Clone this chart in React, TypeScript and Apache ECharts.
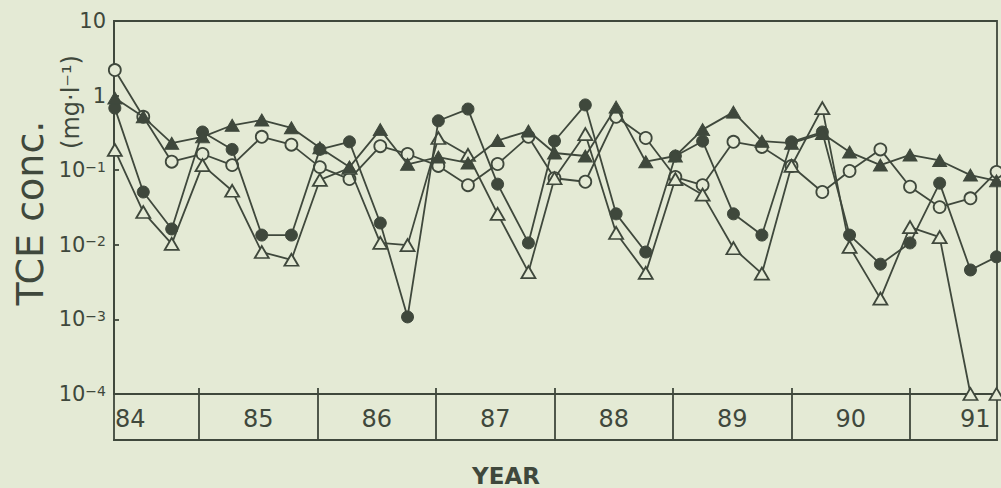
import React, { useEffect, useRef } from "react";
import * as echarts from "echarts";

// Sampling dates (year, two-digit) — roughly quarterly
const TIMES = [
  84.29, 84.53, 84.77, 85.03, 85.28, 85.53, 85.78, 86.02, 86.27, 86.53, 86.76,
  87.02, 87.27, 87.52, 87.78, 88.0, 88.26, 88.52, 88.77, 89.02, 89.25, 89.51,
  89.75, 90.0, 90.26, 90.49, 90.75, 91.0, 91.25, 91.51, 91.73,
];

// TCE concentrations (mg/l)
const FILLED_TRIANGLE = [
  0.93, 0.52, 0.23, 0.28, 0.4, 0.47, 0.37, 0.2, 0.11, 0.35, 0.12, 0.15, 0.125,
  0.25, 0.335, 0.17, 0.155, 0.7, 0.13, 0.155, 0.35, 0.6, 0.245, 0.23, 0.31,
  0.175, 0.117, 0.16, 0.135, 0.086, 0.072,
];
const FILLED_CIRCLE = [
  0.68, 0.051, 0.0163, 0.325, 0.19, 0.0135, 0.0135, 0.19, 0.24, 0.0196, 0.00108,
  0.46, 0.66, 0.065, 0.0106, 0.246, 0.75, 0.026, 0.008, 0.155, 0.245, 0.026,
  0.0135, 0.24, 0.325, 0.0135, 0.0055, 0.0106, 0.067, 0.0046, 0.0069,
];
const OPEN_CIRCLE = [
  2.2, 0.52, 0.13, 0.165, 0.117, 0.28, 0.22, 0.11, 0.076, 0.21, 0.165, 0.114,
  0.063, 0.121, 0.28, 0.078, 0.07, 0.52, 0.27, 0.081, 0.063, 0.24, 0.205, 0.114,
  0.051, 0.0975, 0.19, 0.06, 0.032, 0.042, 0.095,
];
const OPEN_TRIANGLE = [
  0.187, 0.0275, 0.0103, 0.117, 0.053, 0.008, 0.0063, 0.074, 0.107, 0.0106,
  0.0099, 0.27, 0.16, 0.026, 0.0043, 0.078, 0.305, 0.0144, 0.0042, 0.076, 0.047,
  0.009, 0.0041, 0.114, 0.68, 0.0094, 0.0019, 0.0173, 0.0127, 0.0001, 0.0001,
];

const YEAR_BOUNDS = [85, 86, 87, 88, 89, 90, 91];
const YEAR_LABELS = ["84", "85", "86", "87", "88", "89", "90", "91"];
const YEAR_LABEL_POS = [84.42, 85.5, 86.5, 87.5, 88.5, 89.5, 90.5, 91.55];
const Y_EXPONENTS = [-4, -3, -2, -1, 0, 1];

const X_MIN = 84.283;
const X_MAX = 91.734;

const BG = "#e4ead5";
const INK = "#3f483c";
const FONT = "DejaVu Sans";

export default function App() {
  const ref = useRef<HTMLDivElement>(null);

  useEffect(() => {
    if (!ref.current) return;
    const chart = echarts.init(ref.current, null, { renderer: "svg" });

    const pair = (arr: number[]) => arr.map((v, i) => [TIMES[i], v]);
    const lineStyle = { color: INK, width: 1.8 };

    const mkSeries = (
      name: string,
      data: number[],
      symbol: string,
      size: number | number[],
      filled: boolean,
      z: number
    ) => ({
      name,
      type: "line",
      xAxisIndex: 0,
      yAxisIndex: 0,
      data: pair(data),
      symbol,
      symbolSize: size,
      showAllSymbol: true,
      lineStyle,
      itemStyle: filled
        ? { color: INK, borderColor: INK, borderWidth: 1 }
        : { color: BG, borderColor: INK, borderWidth: 1.8 },
      z,
      clip: false,
    });

    const axisLine = { show: true, lineStyle: { color: INK, width: 1.8 } };

    const option: any = {
      animation: false,
      backgroundColor: BG,
      textStyle: { fontFamily: FONT, color: INK },
      grid: [
        {
          left: 114,
          top: 21,
          width: 883,
          height: 373,
          show: true,
          borderColor: INK,
          borderWidth: 1.8,
          backgroundColor: "transparent",
        },
        {
          left: 114,
          top: 394,
          width: 883,
          height: 46,
          show: true,
          borderColor: INK,
          borderWidth: 1.8,
          backgroundColor: "transparent",
        },
      ],
      xAxis: [
        {
          type: "value",
          gridIndex: 0,
          min: X_MIN,
          max: X_MAX,
          axisLine,
          splitLine: { show: false },
          axisTick: {
            show: true,
            inside: true,
            length: 6,
            customValues: YEAR_BOUNDS,
            lineStyle: { color: INK, width: 1.8 },
          },
          axisLabel: {
            show: true,
            customValues: YEAR_LABEL_POS,
            margin: 13,
            fontSize: 24,
            fontFamily: FONT,
            color: INK,
            formatter: (v: number) => {
              let best = 0;
              YEAR_LABEL_POS.forEach((p, i) => {
                if (Math.abs(p - v) < Math.abs(YEAR_LABEL_POS[best] - v)) best = i;
              });
              return YEAR_LABELS[best];
            },
          },
        },
        {
          type: "value",
          gridIndex: 1,
          min: X_MIN,
          max: X_MAX,
          axisLine,
          splitLine: { show: false },
          axisTick: {
            show: true,
            inside: true,
            length: 46,
            customValues: YEAR_BOUNDS,
            lineStyle: { color: INK, width: 1.8 },
          },
          axisLabel: { show: false },
        },
      ],
      yAxis: [
        {
          type: "log",
          logBase: 10,
          gridIndex: 0,
          min: 1e-4,
          max: 10,
          axisLine,
          axisTick: { show: true, inside: true, length: 5, lineStyle: { color: INK, width: 1.8 } },
          minorTick: { show: false },
          splitLine: { show: false },
          axisLabel: {
            margin: 8,
            color: INK,
            fontFamily: FONT,
            formatter: (v: number) => {
              const e = Math.round(Math.log10(v));
              if (!Y_EXPONENTS.includes(e)) return "";
              if (e === 1) return "{b|10}";
              if (e === 0) return "{b|1}";
              return "{b|10}{s|−" + -e + "}";
            },
            rich: {
              b: { fontSize: 21, fontFamily: FONT, color: INK },
              s: { fontSize: 14, fontFamily: FONT, color: INK, verticalAlign: "top" },
            },
          },
        },
        {
          type: "value",
          gridIndex: 1,
          min: 0,
          max: 1,
          show: false,
        },
      ],
      graphic: [
        {
          type: "text",
          x: 30,
          y: 213,
          rotation: Math.PI / 2,
          style: {
            text: "TCE conc.",
            font: `38px '${FONT}'`,
            fill: INK,
            align: "center",
            verticalAlign: "middle",
          },
        },
        {
          type: "text",
          x: 71,
          y: 102,
          rotation: Math.PI / 2,
          style: {
            text: "(mg·l⁻¹)",
            font: `24px '${FONT}'`,
            fill: INK,
            align: "center",
            verticalAlign: "middle",
          },
        },
        {
          type: "text",
          x: 506,
          y: 476,
          style: {
            text: "YEAR",
            font: `bold 23px '${FONT}'`,
            fill: INK,
            align: "center",
            verticalAlign: "middle",
          },
        },
      ],
      series: [
        mkSeries("open circle", OPEN_CIRCLE, "circle", 12, false, 2),
        mkSeries("open triangle", OPEN_TRIANGLE, "triangle", [14, 12], false, 3),
        mkSeries("filled circle", FILLED_CIRCLE, "circle", 12, true, 4),
        mkSeries("filled triangle", FILLED_TRIANGLE, "triangle", [14, 12], true, 5),
      ],
    };

    chart.setOption(option);
    return () => chart.dispose();
  }, []);

  return (
    <div
      ref={ref}
      style={{ position: "fixed", left: 0, top: 0, width: 1001, height: 488 }}
    />
  );
}
